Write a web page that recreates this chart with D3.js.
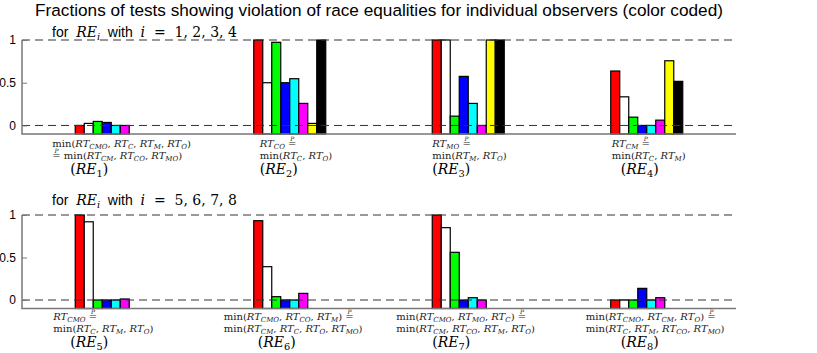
<!DOCTYPE html>
<html>
<head>
<meta charset="utf-8">
<script src="https://cdn.jsdelivr.net/npm/d3@7"></script>
<style>
  body { margin: 0; background: #fff; }
  svg text { white-space: pre; }
</style>
</head>
<body>
<svg id="chart" width="817" height="353"></svg>
<script>
// values, one array per race equality, 8 observers each
const observers = ['o1', 'o2', 'o3', 'o4', 'o5', 'o6', 'o7', 'o8'];
const obsColors = ['#ff0000', '#ffffff', '#00ff00', '#0000ff', '#00ffff', '#ff00ff', '#ffff00', '#000000'];

const re1 = [0, 0.024, 0.047, 0.035, 0, 0, null, null];
const re2 = [1, 0.5, 0.973, 0.5, 0.547, 0.258, 0.024, 1];
const re3 = [1, 1, 0.109, 0.574, 0.258, 0, 1, 1];
const re4 = [0.637, 0.335, 0.097, 0, 0, 0.062, 0.757, 0.516];
const re5 = [1, 0.92, 0, 0, 0, 0.012, null, null];
const re6 = [0.933, 0.392, 0.039, 0, 0, 0.078, null, null];
const re7 = [1, 0.851, 0.561, 0, 0.027, 0, null, null];
const re8 = [0, 0, 0, 0.137, 0, 0.027, null, null];

const yTicks = [0, 0.5, 1];
const title = 'Fractions of tests showing violation of race equalities for individual observers (color coded)';

// equality labels, in a tiny latex-ish notation
const eqLabels = [
  ['min(RT_{CMO}, RT_C, RT_M, RT_O)', '=P min(RT_{CM}, RT_{CO}, RT_{MO})'],
  ['RT_{CO} =P', 'min(RT_C, RT_O)'],
  ['RT_{MO} =P', 'min(RT_M, RT_O)'],
  ['RT_{CM} =P', 'min(RT_C, RT_M)'],
  ['RT_{CMO} =P', 'min(RT_C, RT_M, RT_O)'],
  ['min(RT_{CMO}, RT_{CO}, RT_M) =P', 'min(RT_{CM}, RT_C, RT_O, RT_{MO})'],
  ['min(RT_{CMO}, RT_{MO}, RT_C) =P', 'min(RT_{CM}, RT_{CO}, RT_M, RT_O)'],
  ['min(RT_{CMO}, RT_{CM}, RT_O) =P', 'min(RT_C, RT_M, RT_{CO}, RT_{MO})']
];

const panels = [
  { sub: '1, 2, 3, 4', series: [re1, re2, re3, re4], first: 1, y1: 40, y0: 134, subY: 36.5, lab: [147, 159, 174] },
  { sub: '5, 6, 7, 8', series: [re5, re6, re7, re8], first: 5, y1: 215, y0: 308.5, subY: 205, lab: [320, 332, 347] }
];
// label x offsets from group centre: [equation lines, (RE_n)]
const labOffsets = [[-59, -41], [-30, -30], [-36, -36], [-35, -26],
                    [-58, -41], [-66, -32], [-72, -36], [-61, -26]];

const SANS = 'Liberation Sans, Arial, sans-serif';
const SERIF = 'DejaVu Serif, serif';

const svg = d3.select('#chart');

const x = d3.scaleLinear().domain([0.5, 4.5]).range([22, 736]);
const unit = x(2) - x(1);
const inner = d3.scaleBand().domain(observers).range([-unit * 0.2017, unit * 0.2017]);

function parse(src) {
  const out = [];
  const re = /min|=P|_\{[^}]*\}|_[A-Za-z0-9]|[A-Za-z]+|[^A-Za-z_=]+|=/g;
  let m;
  while ((m = re.exec(src)) !== null) {
    const t = m[0];
    if (t === 'min') out.push({ t: 'min', k: 'rm' });
    else if (t === '=P') out.push({ t: '=', k: 'eqp' });
    else if (t[0] === '_') {
      const s = t.replace(/^_\{?|\}$/g, '');
      out.push({ t: s, k: /\d/.test(s) ? 'subrm' : 'sub' });
    }
    else if (/^[A-Za-z]+$/.test(t)) out.push({ t: t, k: 'it' });
    else out.push({ t: t, k: 'rm' });
  }
  return out;
}

function drawMath(g, x0, y, tokens, size) {
  let cx = x0;
  tokens.forEach(tk => {
    const isSub = tk.k === 'sub' || tk.k === 'subrm';
    const fs = isSub ? size * 0.7 : size;
    const t = g.append('text')
      .attr('x', cx)
      .attr('y', isSub ? y + size * 0.22 : y)
      .attr('font-family', tk.k === 'sans' ? SANS : SERIF)
      .attr('font-size', fs)
      .attr('font-style', (tk.k === 'it' || tk.k === 'sub') ? 'italic' : 'normal')
      .text(tk.t);
    const w = t.node().getComputedTextLength();
    if (tk.k === 'eqp') {
      g.append('text')
        .attr('x', cx + w / 2)
        .attr('y', y - size * 0.6)
        .attr('text-anchor', 'middle')
        .attr('font-family', SERIF)
        .attr('font-style', 'italic')
        .attr('font-size', size * 0.6)
        .text('P');
    }
    cx += w;
  });
}

svg.append('text')
  .attr('x', 379)
  .attr('y', 16)
  .attr('text-anchor', 'middle')
  .attr('font-family', SANS)
  .attr('font-size', 17.2)
  .text(title);

panels.forEach(p => {
  const y = d3.scaleLinear().domain([-0.1, 1]).range([p.y0, p.y1]);
  const g = svg.append('g');

  // subtitle
  drawMath(g, 52, p.subY,
    [{ t: 'for  ', k: 'sans' }].concat(parse('RE_i'), [{ t: '  with  ', k: 'sans' }], parse('i  =  ' + p.sub)),
    14);

  // bars
  p.series.forEach((vals, gi) => {
    const cx = x(gi + 1);
    g.append('g').selectAll('rect')
      .data(vals.map((v, i) => ({ v: v, i: i })).filter(d => d.v !== null))
      .join('rect')
      .attr('x', d => cx + inner(observers[d.i]))
      .attr('width', inner.bandwidth())
      .attr('y', d => y(d.v))
      .attr('height', d => y(-0.1) - y(d.v))
      .attr('fill', d => obsColors[d.i])
      .attr('stroke', '#000')
      .attr('stroke-width', 1.2);
  });

  // dashed reference lines at 0 and 1
  g.append('g').selectAll('line')
    .data([0, 1])
    .join('line')
    .attr('x1', x.range()[0]).attr('x2', x.range()[1])
    .attr('y1', d => y(d)).attr('y2', d => y(d))
    .attr('stroke', '#333')
    .attr('stroke-width', 1)
    .attr('stroke-dasharray', '8,5');

  // axes
  const ax = g.append('g')
    .attr('transform', 'translate(' + x.range()[0] + ',0)')
    .call(d3.axisLeft(y.copy().domain([0, 1]).range([y(0), y(1)]))
      .tickValues(yTicks)
      .tickFormat(d3.format('~g'))
      .tickSizeInner(-5)
      .tickSizeOuter(0)
      .tickPadding(6));
  ax.select('.domain').remove();
  ax.selectAll('.tick line').attr('stroke', '#777');
  ax.selectAll('.tick text').attr('font-family', SANS).attr('font-size', 12).attr('fill', '#000');

  g.append('path')
    .attr('d', 'M' + x.range()[0] + ',' + y(1) + 'V' + y(-0.1) + 'H' + x.range()[1])
    .attr('fill', 'none')
    .attr('stroke', '#777')
    .attr('stroke-width', 1.5);

  // equality labels under each group
  p.series.forEach((vals, gi) => {
    const n = p.first + gi;
    const cx = x(gi + 1);
    const off = labOffsets[n - 1];
    const lines = eqLabels[n - 1];
    const lg = g.append('g').attr('fill', '#222');
    drawMath(lg, cx + off[0], p.lab[0], parse(lines[0]), 10);
    drawMath(lg, cx + off[0], p.lab[1], parse(lines[1]), 10);
    drawMath(g, cx + off[1], p.lab[2], parse('(RE_' + n + ')'), 14);
  });
});
</script>
</body>
</html>
